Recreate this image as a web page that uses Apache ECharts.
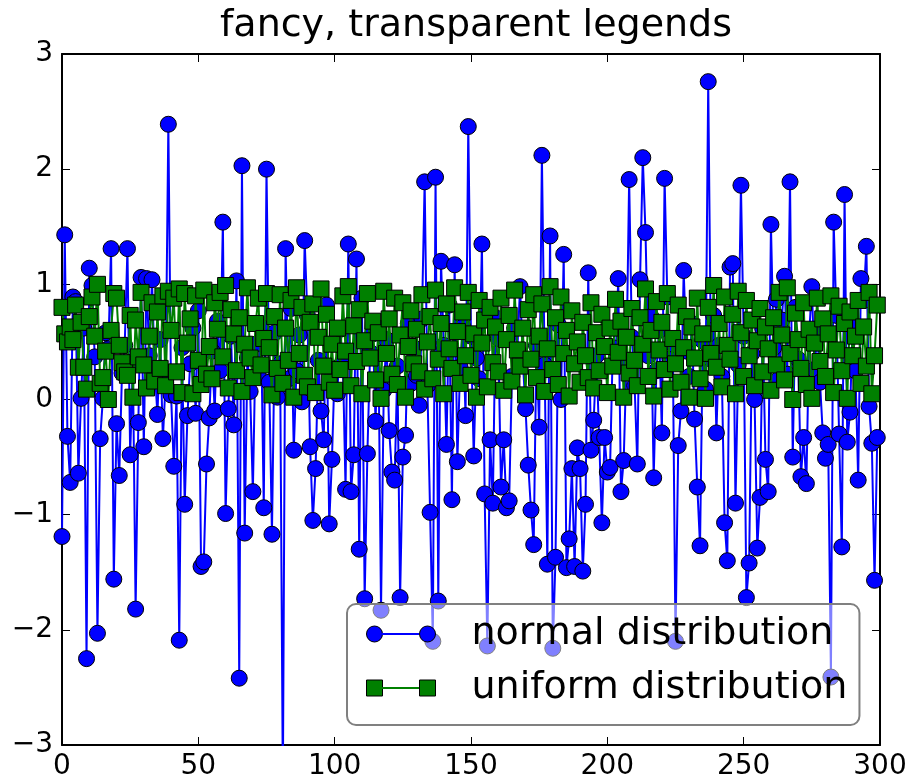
<!DOCTYPE html>
<html>
<head>
<meta charset="utf-8">
<script src="https://cdn.jsdelivr.net/npm/echarts@6/dist/echarts.min.js"></script>
<style>html,body{margin:0;padding:0;background:#fff}#c{width:914px;height:784px}</style>
</head>
<body>
<div id="c"></div>
<script>
const titleText = 'fancy, transparent legends';
const seriesNames = ['normal distribution', 'uniform distribution'];
const xTicks = [0, 50, 100, 150, 200, 250, 300];
const yTicks = [-3, -2, -1, 0, 1, 2, 3];

const normalValues = [
-1.19,1.43,-0.32,-0.72,0.89,0.85,-0.64,0.01,0.62,-2.25,
1.14,0.99,0.37,-2.03,-0.34,0.01,0.58,0.44,1.31,-1.56,
-0.21,-0.66,0.23,0.47,1.31,-0.48,0.31,-1.82,-0.20,1.06,
-0.41,1.05,0.38,1.04,0.26,-0.13,0.52,-0.34,0.15,2.39,
0.04,-0.58,0.03,-2.09,0.45,-0.91,-0.14,0.31,0.62,-0.12,
0.77,-1.45,-1.41,-0.56,-0.16,0.42,-0.10,0.68,0.25,1.54,
-0.99,-0.08,0.55,-0.22,1.03,-2.42,2.03,-1.16,0.36,0.07,
-0.80,0.48,0.21,0.63,-0.94,2.00,0.15,-1.17,0.58,0.02,
0.31,-3.35,1.31,0.18,0.79,-0.44,0.25,0.56,-0.02,1.38,
0.73,-0.41,-1.05,-0.60,0.34,-0.10,-0.35,0.82,-1.08,-0.52,
0.27,0.05,0.61,0.33,-0.78,1.35,-0.80,-0.48,1.22,-1.30,
0.88,-1.73,-0.47,0.41,0.57,-0.19,0.62,-1.83,0.08,0.52,
-0.27,-0.63,-0.70,0.29,-1.72,-0.50,-0.31,0.66,0.14,0.45,
0.21,-0.05,0.70,1.89,0.12,-0.98,-2.10,1.93,-1.75,1.20,
0.47,-0.39,0.82,-0.87,1.17,-0.54,0.28,0.63,-0.14,2.37,
0.55,-0.49,0.36,0.18,1.35,-0.82,-2.14,-0.35,-0.90,0.71,
0.53,-0.76,-0.35,-0.94,-0.88,0.20,0.62,0.43,0.98,0.34,
-0.08,-0.57,-0.96,-1.26,0.47,-0.24,2.12,0.30,-1.43,1.42,
-2.16,-1.37,0.65,0.00,1.26,-1.46,-1.21,-0.60,-1.45,-0.42,
-0.60,-1.49,-0.91,1.10,-0.44,-0.18,0.38,-0.33,-1.07,-0.33,
-0.63,-0.59,0.45,0.30,1.05,-0.80,-0.53,0.31,1.91,0.54,
0.12,-0.56,1.04,2.10,1.45,0.38,0.72,-0.68,0.25,0.60,
-0.29,1.92,0.89,0.35,0.48,-2.10,-0.40,-0.10,1.12,0.42,
0.20,0.66,-0.17,-0.76,-1.27,0.51,0.09,2.76,0.35,0.73,
-0.29,0.47,0.20,-1.07,-1.40,1.15,1.18,-0.90,0.30,1.86,
0.55,-1.72,-1.42,0.40,0.00,-1.29,-0.85,0.61,-0.52,-0.80,
1.52,0.45,0.87,0.18,0.69,1.07,0.22,1.89,-0.50,0.80,
0.35,-0.67,-0.33,-0.73,0.55,0.98,0.26,0.60,0.15,-0.29,
-0.51,-0.39,-2.41,1.54,0.73,-0.30,-1.28,1.78,-0.37,-0.11,
0.64,0.25,-0.70,1.05,0.86,1.33,-0.06,-0.38,-1.57,-0.33
];

const uniformValues = [
0.80,0.57,0.50,0.63,0.52,0.82,0.28,0.67,0.28,0.09,0.72,0.89,0.55,1.00,0.14,0.19,0.42,0.00,0.60,0.92,
0.88,0.47,0.32,0.24,0.21,0.73,0.02,0.69,0.37,0.93,0.30,0.10,0.55,0.84,0.16,0.76,0.27,0.90,0.12,0.94,
0.60,0.88,0.24,0.96,0.06,0.92,0.49,0.70,0.05,0.90,0.34,0.13,0.95,0.22,0.46,0.18,0.84,0.61,0.93,0.37,
0.99,0.10,0.78,0.57,0.25,0.71,0.07,0.48,0.97,0.36,0.19,0.66,0.88,0.30,0.53,0.92,0.45,0.04,0.72,0.27,
0.91,0.14,0.62,0.34,0.86,0.02,0.97,0.40,0.80,0.21,0.11,0.67,0.83,0.06,0.54,0.96,0.29,0.74,0.15,0.48,
0.08,0.62,0.26,0.90,0.42,0.98,0.12,0.64,0.33,0.78,0.05,0.51,0.92,0.36,0.68,0.17,0.58,0.01,0.94,0.40,
0.70,0.22,0.88,0.13,0.56,0.84,0.02,0.46,0.77,0.31,0.61,0.24,0.91,0.09,0.50,0.72,0.18,0.95,0.35,0.66,
0.05,0.83,0.44,0.27,0.97,0.59,0.14,0.76,0.38,0.93,0.21,0.57,0.02,0.86,0.49,0.69,0.11,0.80,0.32,0.63,
0.24,0.88,0.08,0.52,0.73,0.16,0.95,0.43,0.29,0.62,0.04,0.78,0.35,0.91,0.19,0.55,0.83,0.07,0.44,0.98,
0.26,0.71,0.13,0.89,0.40,0.60,0.03,0.77,0.31,0.50,0.15,0.67,0.38,0.19,0.84,0.10,0.58,0.25,0.74,0.46,
0.06,0.62,0.29,0.87,0.41,0.68,0.02,0.54,0.23,0.79,0.34,0.12,0.71,0.48,0.96,0.20,0.60,0.03,0.85,0.43,
0.67,0.26,0.92,0.09,0.53,0.31,0.82,0.15,0.45,0.72,0.02,0.63,0.36,0.88,0.18,0.57,0.01,0.80,0.40,0.99,
0.28,0.66,0.11,0.89,0.47,0.35,0.74,0.05,0.94,0.58,0.20,0.86,0.38,0.69,0.12,0.51,0.79,0.24,0.63,0.44,
0.08,0.71,0.30,0.93,0.56,0.17,0.97,0.40,0.00,0.75,0.52,0.27,0.84,0.13,0.61,0.01,0.49,0.88,0.33,0.70,
0.20,0.57,0.90,0.06,0.43,0.81,0.25,0.66,0.01,0.76,0.38,0.55,0.86,0.14,0.63,0.29,0.93,0.05,0.38,0.82
];

const FONT = 'DejaVu Sans';
const chart = echarts.init(document.getElementById('c'), null, {renderer: 'canvas'});

const toPairs = arr => arr.map((v, i) => [i, v]);
const xMin = xTicks[0], xMax = xTicks[xTicks.length - 1], xInt = xTicks[1] - xTicks[0];
const yMin = yTicks[0], yMax = yTicks[yTicks.length - 1], yInt = yTicks[1] - yTicks[0];
const fmtMinus = v => (v < 0 ? '\u2212' + Math.abs(v) : String(v));

const axisCommon = {
  type: 'value',
  splitLine: {show: false},
  axisLine: {show: true, onZero: false, lineStyle: {color: '#000', width: 2}},
  axisTick: {show: true, inside: true, length: 8, lineStyle: {color: '#000', width: 1}},
};

const twoCircles = 'path://M0,8 A8,8 0 1,1 16,8 A8,8 0 1,1 0,8 Z M53,8 A8,8 0 1,1 69,8 A8,8 0 1,1 53,8 Z';
const twoSquares = 'path://M0,0 L16,0 L16,16 L0,16 Z M53,0 L69,0 L69,16 L53,16 Z';

const legendLeft = 347, legendTop = 604;
const padTop = 10, padLeft = 19, rowH = 40, rowGap = 14;

const option = {
  backgroundColor: '#fff',
  animation: false,
  title: {
    text: titleText,
    left: 471,
    top: 2,
    textAlign: 'center',
    textStyle: {fontFamily: FONT, fontSize: 38, fontWeight: 'normal', color: '#000'}
  },
  grid: {left: 62, right: 34, top: 54, bottom: 39},
  xAxis: [
    Object.assign({}, axisCommon, {
      position: 'bottom', min: xMin, max: xMax, interval: xInt,
      axisLabel: {fontFamily: FONT, fontSize: 28, color: '#000', margin: 8}
    }),
    Object.assign({}, axisCommon, {
      position: 'top', min: xMin, max: xMax, interval: xInt,
      axisLabel: {show: false}
    })
  ],
  yAxis: [
    Object.assign({}, axisCommon, {
      position: 'left', min: yMin, max: yMax, interval: yInt,
      axisLabel: {fontFamily: FONT, fontSize: 28, color: '#000', margin: 9, formatter: fmtMinus}
    }),
    Object.assign({}, axisCommon, {
      position: 'right', min: yMin, max: yMax, interval: yInt,
      axisLabel: {show: false}
    })
  ],
  legend: {
    orient: 'vertical',
    left: legendLeft,
    top: legendTop,
    padding: [padTop, 12, 17, padLeft],
    itemGap: rowGap,
    itemWidth: 69,
    itemHeight: 16,
    selectedMode: false,
    backgroundColor: 'rgba(255,255,255,0.5)',
    borderColor: '#808080',
    borderWidth: 2,
    borderRadius: 9,
    itemStyle: {borderColor: '#000', borderWidth: 1},
    textStyle: {fontFamily: FONT, fontSize: 38, color: '#000', lineHeight: rowH, padding: [0, 0, 0, 31]},
    data: [
      {name: seriesNames[0], icon: twoCircles},
      {name: seriesNames[1], icon: twoSquares}
    ],
    z: 10
  },
  graphic: [
    {type: 'line', z: 100, shape: {x1: legendLeft + padLeft + 16, y1: legendTop + padTop + rowH / 2, x2: legendLeft + padLeft + 53, y2: legendTop + padTop + rowH / 2}, style: {stroke: '#0000ff', lineWidth: 2}},
    {type: 'line', z: 100, shape: {x1: legendLeft + padLeft + 16, y1: legendTop + padTop + rowH * 1.5 + rowGap, x2: legendLeft + padLeft + 53, y2: legendTop + padTop + rowH * 1.5 + rowGap}, style: {stroke: '#008000', lineWidth: 2}}
  ],
  series: [
    {
      name: seriesNames[0],
      type: 'line',
      data: toPairs(normalValues),
      clip: true,
      symbol: 'circle',
      symbolSize: 16,
      showAllSymbol: true,
      lineStyle: {color: '#0000ff', width: 2},
      itemStyle: {color: '#0000ff', borderColor: '#000', borderWidth: 1},
      emphasis: {disabled: true},
      z: 2
    },
    {
      name: seriesNames[1],
      type: 'line',
      data: toPairs(uniformValues),
      clip: true,
      symbol: 'rect',
      symbolSize: 16,
      showAllSymbol: true,
      lineStyle: {color: '#008000', width: 2},
      itemStyle: {color: '#008000', borderColor: '#000', borderWidth: 1},
      emphasis: {disabled: true},
      z: 3
    }
  ]
};
chart.setOption(option);
</script>
</body>
</html>
